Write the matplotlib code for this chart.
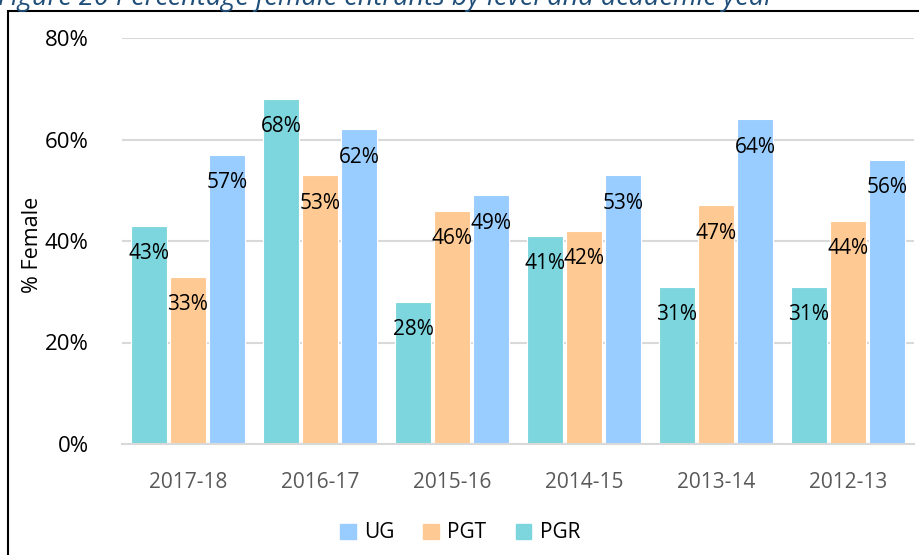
import matplotlib.pyplot as plt
from matplotlib.patches import Rectangle, Patch
import numpy as np

years = ['2017-18', '2016-17', '2015-16', '2014-15', '2013-14', '2012-13']
pgr = [43, 68, 28, 41, 31, 31]
pgt = [33, 53, 46, 42, 47, 44]
ug = [57, 62, 49, 53, 64, 56]

colors = {'PGR': '#7dd6dd', 'PGT': '#ffc993', 'UG': '#99ccff'}

plt.rcParams['font.family'] = ['Open Sans', 'DejaVu Sans']

fig = plt.figure(figsize=(9.2, 5.55), dpi=100)
ax = fig.add_axes([122 / 920, 1 - 444 / 555, (914 - 122) / 920, (444 - 38) / 555])

x = np.arange(len(years))
step = 0.2955
width = 0.28
series = [('PGR', pgr, -step), ('PGT', pgt, 0), ('UG', ug, step)]
for name, vals, off in series:
    fracs = [v / 100 for v in vals]
    bars = ax.bar(x + off, fracs, width, color=colors[name], edgecolor='white', linewidth=0.8, zorder=2)
    for b, v in zip(bars, vals):
        ax.annotate(f'{v}%', (b.get_x() + b.get_width() / 2, b.get_height()),
                    xytext=(0, -28), textcoords='offset pixels',
                    ha='center', va='center', fontsize=15, color='black', zorder=3)

ax.set_xlim(-0.5, 5.5)
ax.set_ylim(0, 0.8)
ax.set_yticks([0, 0.2, 0.4, 0.6, 0.8])
ax.set_yticklabels(['0%', '20%', '40%', '60%', '80%'], fontsize=16)
ax.set_xticks(x)
ax.set_xticklabels(years, fontsize=15, color='#595959')
ax.tick_params(axis='both', length=0)
ax.tick_params(axis='y', pad=24)
ax.tick_params(axis='x', pad=20)
ax.grid(axis='y', color='#d9d9d9', linewidth=1.5, zorder=0)
for s in ['top', 'right', 'left']:
    ax.spines[s].set_visible(False)
ax.spines['bottom'].set_color('#d9d9d9')
ax.spines['bottom'].set_linewidth(1.5)

fig.text(33 / 920, 1 - 245 / 555, '% Female', rotation=90, ha='center', va='center', fontsize=15.5)

handles = [Patch(color=colors[n]) for n in ['UG', 'PGT', 'PGR']]
fig.legend(handles, ['UG', 'PGT', 'PGR'], loc='center', bbox_to_anchor=(460 / 920, 1 - 533 / 555),
           ncol=3, frameon=False, fontsize=15, handlelength=0.75, handleheight=0.75,
           handletextpad=0.4, columnspacing=1.4)

fig.patches.append(Rectangle((8 / 920, -0.1), 1.2, 1 - 11 / 555 + 0.1, fill=False,
                             edgecolor='black', linewidth=1.5, transform=fig.transFigure))
fig.text(-0.002, 1 - 5 / 555, 'Figure 20 Percentage female entrants by level and academic year',
         style='italic', color='#1f4e79', fontsize=19.5, ha='left', va='baseline')

fig.savefig('out.png', dpi=100)
